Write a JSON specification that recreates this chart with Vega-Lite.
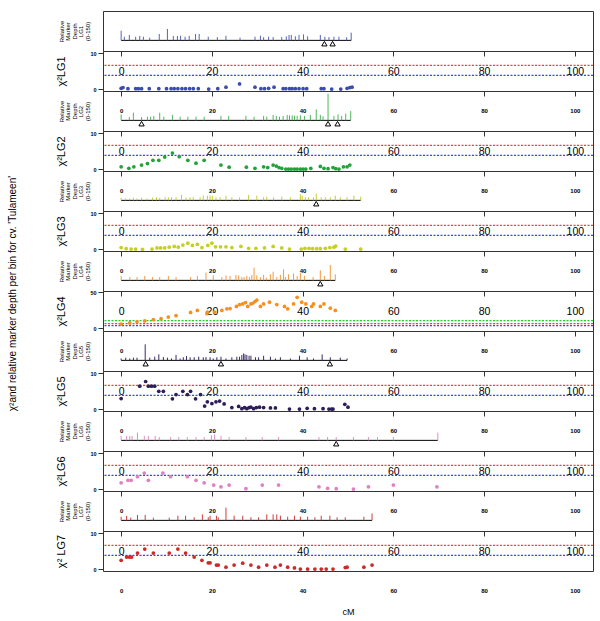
{
"$schema":"https://vega.github.io/schema/vega-lite/v6.json",
"padding":{"left":7,"top":10,"right":6,"bottom":2},
"background":"#ffffff",
"title":{"text":"χ²and relative marker depth per bin for cv. 'Tulameen'","orient":"left","anchor":"middle","fontSize":10,"fontWeight":"normal","font":"Liberation Sans","color":"#000","offset":37,"dx":20},
"spacing":0,
"bounds":"flush",
"config":{"view":{"stroke":"#333","strokeWidth":1},"font":"Liberation Sans","axis":{"grid":false,"labelColor":"#000","tickColor":"#333","titleColor":"#000","labelFont":"Liberation Sans","titleFont":"Liberation Sans","labelOverlap":false}},
"datasets":{
"thr":[{"level":"p05","value":3.84},{"level":"p01","value":6.63},{"level":"p001","value":10.83}],
"base":[{"lg":"LG1","start":0,"end":50.7},{"lg":"LG2","start":0,"end":50.6},{"lg":"LG3","start":0,"end":52.8},{"lg":"LG4","start":0,"end":47.2},{"lg":"LG5","start":0,"end":49.8},{"lg":"LG6","start":0,"end":69.8},{"lg":"LG7","start":0,"end":55.3}],
"tri":[{"lg":"LG1","cM":44.8},{"lg":"LG1","cM":46.6},{"lg":"LG2","cM":4.5},{"lg":"LG2","cM":45.6},{"lg":"LG2","cM":47.7},{"lg":"LG3","cM":43.0},{"lg":"LG4","cM":43.9},{"lg":"LG5","cM":5.4},{"lg":"LG5","cM":22.0},{"lg":"LG5","cM":46.0},{"lg":"LG6","cM":47.4}],
"bars":[
{"lg":"LG1","cM":0,"depth":50},{"lg":"LG1","cM":0.7,"depth":19},{"lg":"LG1","cM":1.8,"depth":28},{"lg":"LG1","cM":3.2,"depth":19},{"lg":"LG1","cM":4.1,"depth":23},{"lg":"LG1","cM":4.9,"depth":19},{"lg":"LG1","cM":6.3,"depth":14},{"lg":"LG1","cM":8.4,"depth":33},{"lg":"LG1","cM":10.2,"depth":59},{"lg":"LG1","cM":11.5,"depth":23},{"lg":"LG1","cM":12.4,"depth":23},{"lg":"LG1","cM":13.1,"depth":24},{"lg":"LG1","cM":14.1,"depth":19},{"lg":"LG1","cM":15.0,"depth":23},{"lg":"LG1","cM":16.4,"depth":33},{"lg":"LG1","cM":17.2,"depth":33},{"lg":"LG1","cM":19.2,"depth":19},{"lg":"LG1","cM":21.2,"depth":17},{"lg":"LG1","cM":23.1,"depth":24},{"lg":"LG1","cM":26.2,"depth":14},{"lg":"LG1","cM":29.5,"depth":19},{"lg":"LG1","cM":30.7,"depth":24},{"lg":"LG1","cM":31.4,"depth":16},{"lg":"LG1","cM":32.5,"depth":19},{"lg":"LG1","cM":33.5,"depth":17},{"lg":"LG1","cM":35.4,"depth":17},{"lg":"LG1","cM":36.4,"depth":21},{"lg":"LG1","cM":37.0,"depth":28},{"lg":"LG1","cM":37.5,"depth":28},{"lg":"LG1","cM":38.4,"depth":21},{"lg":"LG1","cM":39.2,"depth":28},{"lg":"LG1","cM":40.2,"depth":31},{"lg":"LG1","cM":41.1,"depth":21},{"lg":"LG1","cM":43.9,"depth":28},{"lg":"LG1","cM":44.9,"depth":19},{"lg":"LG1","cM":45.8,"depth":17},{"lg":"LG1","cM":46.9,"depth":19},{"lg":"LG1","cM":48.0,"depth":19},{"lg":"LG1","cM":49.7,"depth":16},{"lg":"LG1","cM":50.7,"depth":40},
{"lg":"LG2","cM":0,"depth":31},{"lg":"LG2","cM":1.8,"depth":17},{"lg":"LG2","cM":2.7,"depth":40},{"lg":"LG2","cM":4.5,"depth":17},{"lg":"LG2","cM":5.8,"depth":19},{"lg":"LG2","cM":6.5,"depth":19},{"lg":"LG2","cM":7.2,"depth":23},{"lg":"LG2","cM":8.5,"depth":40},{"lg":"LG2","cM":9.4,"depth":19},{"lg":"LG2","cM":11.3,"depth":28},{"lg":"LG2","cM":13.0,"depth":19},{"lg":"LG2","cM":14.7,"depth":19},{"lg":"LG2","cM":16.5,"depth":19},{"lg":"LG2","cM":18.3,"depth":19},{"lg":"LG2","cM":22.0,"depth":23},{"lg":"LG2","cM":23.7,"depth":23},{"lg":"LG2","cM":27.5,"depth":23},{"lg":"LG2","cM":29.3,"depth":19},{"lg":"LG2","cM":31.4,"depth":23},{"lg":"LG2","cM":32.1,"depth":19},{"lg":"LG2","cM":33.5,"depth":28},{"lg":"LG2","cM":34.2,"depth":23},{"lg":"LG2","cM":34.9,"depth":19},{"lg":"LG2","cM":35.7,"depth":23},{"lg":"LG2","cM":36.6,"depth":28},{"lg":"LG2","cM":37.1,"depth":26},{"lg":"LG2","cM":37.7,"depth":26},{"lg":"LG2","cM":38.2,"depth":24},{"lg":"LG2","cM":38.8,"depth":24},{"lg":"LG2","cM":39.5,"depth":26},{"lg":"LG2","cM":40.4,"depth":23},{"lg":"LG2","cM":41.7,"depth":28},{"lg":"LG2","cM":43.0,"depth":57},{"lg":"LG2","cM":43.9,"depth":28},{"lg":"LG2","cM":44.5,"depth":21},{"lg":"LG2","cM":45.6,"depth":138},{"lg":"LG2","cM":46.9,"depth":23},{"lg":"LG2","cM":47.8,"depth":31},{"lg":"LG2","cM":48.6,"depth":23},{"lg":"LG2","cM":49.5,"depth":35},{"lg":"LG2","cM":50.6,"depth":48},
{"lg":"LG3","cM":0,"depth":14},{"lg":"LG3","cM":1.0,"depth":10},{"lg":"LG3","cM":1.9,"depth":10},{"lg":"LG3","cM":2.7,"depth":14},{"lg":"LG3","cM":3.5,"depth":10},{"lg":"LG3","cM":4.5,"depth":14},{"lg":"LG3","cM":5.7,"depth":10},{"lg":"LG3","cM":6.9,"depth":14},{"lg":"LG3","cM":7.8,"depth":16},{"lg":"LG3","cM":8.5,"depth":14},{"lg":"LG3","cM":9.7,"depth":16},{"lg":"LG3","cM":10.4,"depth":16},{"lg":"LG3","cM":11.1,"depth":16},{"lg":"LG3","cM":12.1,"depth":16},{"lg":"LG3","cM":13.3,"depth":28},{"lg":"LG3","cM":14.3,"depth":14},{"lg":"LG3","cM":15.2,"depth":16},{"lg":"LG3","cM":15.9,"depth":16},{"lg":"LG3","cM":17.4,"depth":16},{"lg":"LG3","cM":18.1,"depth":24},{"lg":"LG3","cM":19.0,"depth":24},{"lg":"LG3","cM":19.6,"depth":24},{"lg":"LG3","cM":20.1,"depth":24},{"lg":"LG3","cM":20.9,"depth":16},{"lg":"LG3","cM":21.8,"depth":16},{"lg":"LG3","cM":23.1,"depth":24},{"lg":"LG3","cM":24.4,"depth":16},{"lg":"LG3","cM":26.1,"depth":16},{"lg":"LG3","cM":28.1,"depth":28},{"lg":"LG3","cM":29.9,"depth":24},{"lg":"LG3","cM":31.4,"depth":16},{"lg":"LG3","cM":32.1,"depth":19},{"lg":"LG3","cM":33.6,"depth":16},{"lg":"LG3","cM":35.4,"depth":19},{"lg":"LG3","cM":37.3,"depth":16},{"lg":"LG3","cM":39.5,"depth":31},{"lg":"LG3","cM":39.9,"depth":24},{"lg":"LG3","cM":40.6,"depth":16},{"lg":"LG3","cM":41.3,"depth":16},{"lg":"LG3","cM":42.4,"depth":16},{"lg":"LG3","cM":43.0,"depth":35},{"lg":"LG3","cM":44.1,"depth":16},{"lg":"LG3","cM":45.0,"depth":16},{"lg":"LG3","cM":46.1,"depth":16},{"lg":"LG3","cM":47.2,"depth":24},{"lg":"LG3","cM":48.3,"depth":16},{"lg":"LG3","cM":49.8,"depth":16},{"lg":"LG3","cM":51.3,"depth":24},{"lg":"LG3","cM":52.8,"depth":19},
{"lg":"LG4","cM":0,"depth":23},{"lg":"LG4","cM":1.9,"depth":17},{"lg":"LG4","cM":3.5,"depth":17},{"lg":"LG4","cM":5.2,"depth":23},{"lg":"LG4","cM":6.9,"depth":17},{"lg":"LG4","cM":8.5,"depth":17},{"lg":"LG4","cM":10.4,"depth":23},{"lg":"LG4","cM":12.1,"depth":17},{"lg":"LG4","cM":15.3,"depth":17},{"lg":"LG4","cM":16.8,"depth":23},{"lg":"LG4","cM":18.7,"depth":40},{"lg":"LG4","cM":20.3,"depth":26},{"lg":"LG4","cM":22.2,"depth":17},{"lg":"LG4","cM":23.1,"depth":26},{"lg":"LG4","cM":24.0,"depth":23},{"lg":"LG4","cM":25.3,"depth":28},{"lg":"LG4","cM":25.9,"depth":26},{"lg":"LG4","cM":26.6,"depth":17},{"lg":"LG4","cM":27.1,"depth":17},{"lg":"LG4","cM":27.7,"depth":23},{"lg":"LG4","cM":28.3,"depth":17},{"lg":"LG4","cM":28.8,"depth":28},{"lg":"LG4","cM":29.3,"depth":66},{"lg":"LG4","cM":29.9,"depth":26},{"lg":"LG4","cM":30.7,"depth":17},{"lg":"LG4","cM":31.4,"depth":28},{"lg":"LG4","cM":32.0,"depth":14},{"lg":"LG4","cM":32.9,"depth":31},{"lg":"LG4","cM":33.5,"depth":45},{"lg":"LG4","cM":34.3,"depth":17},{"lg":"LG4","cM":35.1,"depth":28},{"lg":"LG4","cM":35.8,"depth":57},{"lg":"LG4","cM":36.2,"depth":17},{"lg":"LG4","cM":36.9,"depth":31},{"lg":"LG4","cM":38.0,"depth":36},{"lg":"LG4","cM":38.8,"depth":23},{"lg":"LG4","cM":39.5,"depth":40},{"lg":"LG4","cM":40.4,"depth":23},{"lg":"LG4","cM":42.3,"depth":17},{"lg":"LG4","cM":43.9,"depth":52},{"lg":"LG4","cM":44.8,"depth":23},{"lg":"LG4","cM":46.1,"depth":80},{"lg":"LG4","cM":47.2,"depth":31},
{"lg":"LG5","cM":0,"depth":10},{"lg":"LG5","cM":1.0,"depth":14},{"lg":"LG5","cM":1.9,"depth":10},{"lg":"LG5","cM":2.7,"depth":14},{"lg":"LG5","cM":3.5,"depth":14},{"lg":"LG5","cM":5.3,"depth":83},{"lg":"LG5","cM":6.3,"depth":14},{"lg":"LG5","cM":7.4,"depth":19},{"lg":"LG5","cM":8.3,"depth":31},{"lg":"LG5","cM":9.3,"depth":17},{"lg":"LG5","cM":10.2,"depth":14},{"lg":"LG5","cM":11.1,"depth":10},{"lg":"LG5","cM":12.1,"depth":28},{"lg":"LG5","cM":13.0,"depth":10},{"lg":"LG5","cM":13.7,"depth":16},{"lg":"LG5","cM":14.4,"depth":22},{"lg":"LG5","cM":15.2,"depth":16},{"lg":"LG5","cM":16.1,"depth":16},{"lg":"LG5","cM":17.1,"depth":19},{"lg":"LG5","cM":18.1,"depth":16},{"lg":"LG5","cM":18.7,"depth":17},{"lg":"LG5","cM":19.6,"depth":16},{"lg":"LG5","cM":20.3,"depth":10},{"lg":"LG5","cM":21.1,"depth":16},{"lg":"LG5","cM":22.0,"depth":19},{"lg":"LG5","cM":23.1,"depth":10},{"lg":"LG5","cM":24.4,"depth":16},{"lg":"LG5","cM":25.5,"depth":19},{"lg":"LG5","cM":26.1,"depth":19},{"lg":"LG5","cM":26.6,"depth":28},{"lg":"LG5","cM":27.0,"depth":36},{"lg":"LG5","cM":27.3,"depth":31},{"lg":"LG5","cM":27.7,"depth":28},{"lg":"LG5","cM":28.2,"depth":24},{"lg":"LG5","cM":28.6,"depth":24},{"lg":"LG5","cM":29.6,"depth":16},{"lg":"LG5","cM":30.3,"depth":16},{"lg":"LG5","cM":31.4,"depth":24},{"lg":"LG5","cM":32.9,"depth":19},{"lg":"LG5","cM":34.0,"depth":10},{"lg":"LG5","cM":35.1,"depth":16},{"lg":"LG5","cM":37.3,"depth":10},{"lg":"LG5","cM":39.3,"depth":24},{"lg":"LG5","cM":41.0,"depth":16},{"lg":"LG5","cM":42.4,"depth":10},{"lg":"LG5","cM":44.3,"depth":31},{"lg":"LG5","cM":46.1,"depth":16},{"lg":"LG5","cM":48.3,"depth":14},{"lg":"LG5","cM":49.8,"depth":10},
{"lg":"LG6","cM":0,"depth":23},{"lg":"LG6","cM":1.2,"depth":23},{"lg":"LG6","cM":1.9,"depth":23},{"lg":"LG6","cM":2.4,"depth":23},{"lg":"LG6","cM":3.6,"depth":40},{"lg":"LG6","cM":5.1,"depth":23},{"lg":"LG6","cM":6.0,"depth":23},{"lg":"LG6","cM":7.5,"depth":23},{"lg":"LG6","cM":8.4,"depth":17},{"lg":"LG6","cM":10.9,"depth":17},{"lg":"LG6","cM":12.7,"depth":17},{"lg":"LG6","cM":14.6,"depth":17},{"lg":"LG6","cM":16.5,"depth":17},{"lg":"LG6","cM":18.3,"depth":17},{"lg":"LG6","cM":19.9,"depth":26},{"lg":"LG6","cM":20.6,"depth":31},{"lg":"LG6","cM":22.0,"depth":23},{"lg":"LG6","cM":23.8,"depth":17},{"lg":"LG6","cM":27.5,"depth":17},{"lg":"LG6","cM":31.1,"depth":17},{"lg":"LG6","cM":34.7,"depth":17},{"lg":"LG6","cM":43.6,"depth":17},{"lg":"LG6","cM":45.5,"depth":17},{"lg":"LG6","cM":47.4,"depth":17},{"lg":"LG6","cM":51.2,"depth":17},{"lg":"LG6","cM":54.5,"depth":17},{"lg":"LG6","cM":56.5,"depth":17},{"lg":"LG6","cM":60.0,"depth":17},{"lg":"LG6","cM":69.8,"depth":40},
{"lg":"LG7","cM":0,"depth":19},{"lg":"LG7","cM":1.2,"depth":23},{"lg":"LG7","cM":2.1,"depth":14},{"lg":"LG7","cM":3.6,"depth":28},{"lg":"LG7","cM":5.3,"depth":28},{"lg":"LG7","cM":7.1,"depth":14},{"lg":"LG7","cM":10.6,"depth":14},{"lg":"LG7","cM":12.5,"depth":24},{"lg":"LG7","cM":14.2,"depth":24},{"lg":"LG7","cM":16.1,"depth":16},{"lg":"LG7","cM":17.9,"depth":31},{"lg":"LG7","cM":19.2,"depth":16},{"lg":"LG7","cM":19.6,"depth":24},{"lg":"LG7","cM":21.0,"depth":24},{"lg":"LG7","cM":21.4,"depth":16},{"lg":"LG7","cM":23.1,"depth":66},{"lg":"LG7","cM":24.9,"depth":24},{"lg":"LG7","cM":26.8,"depth":24},{"lg":"LG7","cM":28.6,"depth":16},{"lg":"LG7","cM":30.3,"depth":16},{"lg":"LG7","cM":32.1,"depth":31},{"lg":"LG7","cM":33.5,"depth":31},{"lg":"LG7","cM":34.3,"depth":31},{"lg":"LG7","cM":35.1,"depth":24},{"lg":"LG7","cM":36.7,"depth":19},{"lg":"LG7","cM":38.2,"depth":24},{"lg":"LG7","cM":39.5,"depth":19},{"lg":"LG7","cM":41.1,"depth":19},{"lg":"LG7","cM":42.7,"depth":16},{"lg":"LG7","cM":44.1,"depth":24},{"lg":"LG7","cM":46.0,"depth":24},{"lg":"LG7","cM":47.6,"depth":16},{"lg":"LG7","cM":49.4,"depth":16},{"lg":"LG7","cM":53.5,"depth":19},{"lg":"LG7","cM":55.3,"depth":36}
],
"chi":[
{"lg":"LG1","cM":0,"chi2":0.3},{"lg":"LG1","cM":0.4,"chi2":0.5},{"lg":"LG1","cM":1.5,"chi2":0.2},{"lg":"LG1","cM":3.2,"chi2":0.2},{"lg":"LG1","cM":3.8,"chi2":0.2},{"lg":"LG1","cM":4.5,"chi2":0.2},{"lg":"LG1","cM":6.2,"chi2":0.2},{"lg":"LG1","cM":8.3,"chi2":0.2},{"lg":"LG1","cM":10.0,"chi2":0.2},{"lg":"LG1","cM":11.0,"chi2":0.2},{"lg":"LG1","cM":11.7,"chi2":0.2},{"lg":"LG1","cM":12.5,"chi2":0.2},{"lg":"LG1","cM":13.4,"chi2":0.2},{"lg":"LG1","cM":14.2,"chi2":0.2},{"lg":"LG1","cM":15.1,"chi2":0.2},{"lg":"LG1","cM":15.9,"chi2":0.2},{"lg":"LG1","cM":17.0,"chi2":0.2},{"lg":"LG1","cM":19.3,"chi2":0.1},{"lg":"LG1","cM":21.3,"chi2":0.2},{"lg":"LG1","cM":23.1,"chi2":0.6},{"lg":"LG1","cM":26.1,"chi2":1.5},{"lg":"LG1","cM":29.5,"chi2":0.6},{"lg":"LG1","cM":30.8,"chi2":0.2},{"lg":"LG1","cM":31.6,"chi2":0.2},{"lg":"LG1","cM":32.5,"chi2":0.3},{"lg":"LG1","cM":33.7,"chi2":0.6},{"lg":"LG1","cM":35.7,"chi2":0.2},{"lg":"LG1","cM":36.3,"chi2":0.2},{"lg":"LG1","cM":37.1,"chi2":0.2},{"lg":"LG1","cM":37.7,"chi2":0.2},{"lg":"LG1","cM":38.4,"chi2":0.2},{"lg":"LG1","cM":39.2,"chi2":0.2},{"lg":"LG1","cM":40.1,"chi2":0.2},{"lg":"LG1","cM":40.9,"chi2":0.2},{"lg":"LG1","cM":44.1,"chi2":0.2},{"lg":"LG1","cM":44.7,"chi2":0.2},{"lg":"LG1","cM":46.4,"chi2":0.1},{"lg":"LG1","cM":48.4,"chi2":0.1},{"lg":"LG1","cM":49.8,"chi2":0.3},{"lg":"LG1","cM":50.4,"chi2":0.5},{"lg":"LG1","cM":50.9,"chi2":0.6},
{"lg":"LG2","cM":0,"chi2":0.7},{"lg":"LG2","cM":1.7,"chi2":0.3},{"lg":"LG2","cM":2.8,"chi2":0.7},{"lg":"LG2","cM":4.5,"chi2":1.2},{"lg":"LG2","cM":5.8,"chi2":1.6},{"lg":"LG2","cM":7.0,"chi2":2.5},{"lg":"LG2","cM":8.3,"chi2":2.5},{"lg":"LG2","cM":9.6,"chi2":3.4},{"lg":"LG2","cM":11.3,"chi2":4.5},{"lg":"LG2","cM":12.8,"chi2":3.5},{"lg":"LG2","cM":14.7,"chi2":2.5},{"lg":"LG2","cM":16.5,"chi2":1.7},{"lg":"LG2","cM":18.3,"chi2":2.5},{"lg":"LG2","cM":22.0,"chi2":1.2},{"lg":"LG2","cM":23.8,"chi2":0.6},{"lg":"LG2","cM":27.6,"chi2":0.6},{"lg":"LG2","cM":29.5,"chi2":0.3},{"lg":"LG2","cM":31.4,"chi2":0.7},{"lg":"LG2","cM":32.3,"chi2":0.5},{"lg":"LG2","cM":33.5,"chi2":1.2},{"lg":"LG2","cM":34.2,"chi2":0.9},{"lg":"LG2","cM":34.8,"chi2":0.5},{"lg":"LG2","cM":35.4,"chi2":0.3},{"lg":"LG2","cM":36.3,"chi2":0.1},{"lg":"LG2","cM":36.9,"chi2":0.1},{"lg":"LG2","cM":37.5,"chi2":0.1},{"lg":"LG2","cM":38.2,"chi2":0.1},{"lg":"LG2","cM":38.8,"chi2":0.1},{"lg":"LG2","cM":39.5,"chi2":0.1},{"lg":"LG2","cM":40.1,"chi2":0.1},{"lg":"LG2","cM":40.7,"chi2":0.1},{"lg":"LG2","cM":41.8,"chi2":0.3},{"lg":"LG2","cM":43.9,"chi2":0.8},{"lg":"LG2","cM":44.7,"chi2":0.3},{"lg":"LG2","cM":45.6,"chi2":0.2},{"lg":"LG2","cM":46.7,"chi2":0.5},{"lg":"LG2","cM":47.3,"chi2":0.2},{"lg":"LG2","cM":48.0,"chi2":0.1},{"lg":"LG2","cM":49.0,"chi2":0.7},{"lg":"LG2","cM":49.8,"chi2":0.7},{"lg":"LG2","cM":50.4,"chi2":1.2},
{"lg":"LG3","cM":0,"chi2":0.5},{"lg":"LG3","cM":1.1,"chi2":0.2},{"lg":"LG3","cM":2.2,"chi2":0.1},{"lg":"LG3","cM":3.2,"chi2":0.1},{"lg":"LG3","cM":4.7,"chi2":0.0},{"lg":"LG3","cM":6.8,"chi2":0.1},{"lg":"LG3","cM":7.9,"chi2":0.4},{"lg":"LG3","cM":8.7,"chi2":0.4},{"lg":"LG3","cM":9.6,"chi2":0.4},{"lg":"LG3","cM":10.6,"chi2":0.6},{"lg":"LG3","cM":11.7,"chi2":0.8},{"lg":"LG3","cM":12.6,"chi2":0.6},{"lg":"LG3","cM":13.6,"chi2":1.2},{"lg":"LG3","cM":14.7,"chi2":1.7},{"lg":"LG3","cM":15.7,"chi2":1.1},{"lg":"LG3","cM":16.8,"chi2":1.4},{"lg":"LG3","cM":17.8,"chi2":0.5},{"lg":"LG3","cM":19.1,"chi2":1.1},{"lg":"LG3","cM":20.0,"chi2":1.7},{"lg":"LG3","cM":20.8,"chi2":0.7},{"lg":"LG3","cM":21.9,"chi2":0.7},{"lg":"LG3","cM":23.1,"chi2":0.7},{"lg":"LG3","cM":24.4,"chi2":0.5},{"lg":"LG3","cM":26.4,"chi2":0.8},{"lg":"LG3","cM":28.1,"chi2":0.3},{"lg":"LG3","cM":29.7,"chi2":0.3},{"lg":"LG3","cM":31.6,"chi2":0.4},{"lg":"LG3","cM":33.5,"chi2":0.8},{"lg":"LG3","cM":35.4,"chi2":0.4},{"lg":"LG3","cM":37.1,"chi2":0.1},{"lg":"LG3","cM":39.7,"chi2":0.1},{"lg":"LG3","cM":40.5,"chi2":0.3},{"lg":"LG3","cM":41.4,"chi2":0.3},{"lg":"LG3","cM":42.2,"chi2":0.2},{"lg":"LG3","cM":43.1,"chi2":0.2},{"lg":"LG3","cM":43.9,"chi2":0.2},{"lg":"LG3","cM":45.0,"chi2":0.3},{"lg":"LG3","cM":46.0,"chi2":0.5},{"lg":"LG3","cM":46.9,"chi2":0.6},{"lg":"LG3","cM":47.3,"chi2":0.9},{"lg":"LG3","cM":49.4,"chi2":0.1},{"lg":"LG3","cM":52.8,"chi2":0.1},
{"lg":"LG4","cM":0,"chi2":5.9},{"lg":"LG4","cM":1.9,"chi2":7.7},{"lg":"LG4","cM":3.5,"chi2":9.5},{"lg":"LG4","cM":5.2,"chi2":10.5},{"lg":"LG4","cM":7.1,"chi2":12.3},{"lg":"LG4","cM":8.8,"chi2":13.6},{"lg":"LG4","cM":10.4,"chi2":15.9},{"lg":"LG4","cM":12.1,"chi2":17.7},{"lg":"LG4","cM":15.3,"chi2":22.3},{"lg":"LG4","cM":16.8,"chi2":25},{"lg":"LG4","cM":18.9,"chi2":20.5},{"lg":"LG4","cM":19.0,"chi2":22.7},{"lg":"LG4","cM":20.6,"chi2":22.7},{"lg":"LG4","cM":22.2,"chi2":25},{"lg":"LG4","cM":23.3,"chi2":27.3},{"lg":"LG4","cM":24.0,"chi2":27.7},{"lg":"LG4","cM":25.4,"chi2":30.5},{"lg":"LG4","cM":26.1,"chi2":33.2},{"lg":"LG4","cM":26.8,"chi2":34},{"lg":"LG4","cM":27.4,"chi2":36},{"lg":"LG4","cM":27.9,"chi2":30.5},{"lg":"LG4","cM":28.6,"chi2":34},{"lg":"LG4","cM":29.0,"chi2":35},{"lg":"LG4","cM":29.5,"chi2":37.3},{"lg":"LG4","cM":29.9,"chi2":39.5},{"lg":"LG4","cM":30.7,"chi2":30.5},{"lg":"LG4","cM":31.4,"chi2":34},{"lg":"LG4","cM":32.7,"chi2":36.4},{"lg":"LG4","cM":34.3,"chi2":33.2},{"lg":"LG4","cM":36.0,"chi2":30.5},{"lg":"LG4","cM":36.7,"chi2":27.3},{"lg":"LG4","cM":38.0,"chi2":34},{"lg":"LG4","cM":38.8,"chi2":43.2},{"lg":"LG4","cM":39.8,"chi2":36.4},{"lg":"LG4","cM":40.7,"chi2":34},{"lg":"LG4","cM":42.0,"chi2":30.5},{"lg":"LG4","cM":42.4,"chi2":34},{"lg":"LG4","cM":43.9,"chi2":30.5},{"lg":"LG4","cM":44.7,"chi2":34},{"lg":"LG4","cM":46.1,"chi2":28.2},{"lg":"LG4","cM":47.2,"chi2":25},
{"lg":"LG5","cM":0,"chi2":3.0},{"lg":"LG5","cM":4.1,"chi2":6.4},{"lg":"LG5","cM":5.4,"chi2":7.7},{"lg":"LG5","cM":6.0,"chi2":6.4},{"lg":"LG5","cM":6.7,"chi2":6.4},{"lg":"LG5","cM":7.4,"chi2":6.4},{"lg":"LG5","cM":8.3,"chi2":5.0},{"lg":"LG5","cM":9.3,"chi2":5.0},{"lg":"LG5","cM":11.3,"chi2":2.9},{"lg":"LG5","cM":12.1,"chi2":4.1},{"lg":"LG5","cM":13.6,"chi2":5.0},{"lg":"LG5","cM":14.6,"chi2":4.1},{"lg":"LG5","cM":15.3,"chi2":5.0},{"lg":"LG5","cM":16.4,"chi2":2.9},{"lg":"LG5","cM":17.5,"chi2":4.1},{"lg":"LG5","cM":18.4,"chi2":0.9},{"lg":"LG5","cM":19.0,"chi2":2.1},{"lg":"LG5","cM":20.0,"chi2":1.6},{"lg":"LG5","cM":20.9,"chi2":2.1},{"lg":"LG5","cM":21.7,"chi2":2.3},{"lg":"LG5","cM":22.7,"chi2":1.5},{"lg":"LG5","cM":24.4,"chi2":0.5},{"lg":"LG5","cM":25.9,"chi2":0.8},{"lg":"LG5","cM":26.6,"chi2":0.2},{"lg":"LG5","cM":27.2,"chi2":0.5},{"lg":"LG5","cM":27.7,"chi2":0.2},{"lg":"LG5","cM":28.2,"chi2":0.5},{"lg":"LG5","cM":28.6,"chi2":0.6},{"lg":"LG5","cM":29.2,"chi2":0.2},{"lg":"LG5","cM":29.8,"chi2":0.5},{"lg":"LG5","cM":30.5,"chi2":0.6},{"lg":"LG5","cM":31.4,"chi2":0.5},{"lg":"LG5","cM":32.9,"chi2":0.4},{"lg":"LG5","cM":34.0,"chi2":0.4},{"lg":"LG5","cM":37.1,"chi2":0.1},{"lg":"LG5","cM":39.3,"chi2":0.1},{"lg":"LG5","cM":41.0,"chi2":0.3},{"lg":"LG5","cM":42.6,"chi2":0.2},{"lg":"LG5","cM":44.5,"chi2":0.2},{"lg":"LG5","cM":45.8,"chi2":0.1},{"lg":"LG5","cM":46.4,"chi2":0.1},{"lg":"LG5","cM":46.7,"chi2":0.1},{"lg":"LG5","cM":49.3,"chi2":1.4},{"lg":"LG5","cM":50.0,"chi2":0.6},
{"lg":"LG6","cM":0,"chi2":1.8},{"lg":"LG6","cM":1.5,"chi2":2.5},{"lg":"LG6","cM":2.2,"chi2":2.5},{"lg":"LG6","cM":3.6,"chi2":3.5},{"lg":"LG6","cM":5.1,"chi2":4.5},{"lg":"LG6","cM":6.0,"chi2":2.5},{"lg":"LG6","cM":9.2,"chi2":4.5},{"lg":"LG6","cM":10.9,"chi2":3.5},{"lg":"LG6","cM":14.6,"chi2":3.5},{"lg":"LG6","cM":16.5,"chi2":2.5},{"lg":"LG6","cM":18.3,"chi2":1.8},{"lg":"LG6","cM":20.4,"chi2":1.2},{"lg":"LG6","cM":22.0,"chi2":0.7},{"lg":"LG6","cM":23.8,"chi2":1.2},{"lg":"LG6","cM":27.5,"chi2":0.2},{"lg":"LG6","cM":31.1,"chi2":1.2},{"lg":"LG6","cM":34.7,"chi2":1.2},{"lg":"LG6","cM":43.6,"chi2":0.7},{"lg":"LG6","cM":45.5,"chi2":0.3},{"lg":"LG6","cM":47.4,"chi2":0.2},{"lg":"LG6","cM":51.2,"chi2":0.1},{"lg":"LG6","cM":54.5,"chi2":0.7},{"lg":"LG6","cM":60.0,"chi2":1.2},{"lg":"LG6","cM":69.6,"chi2":0.7},
{"lg":"LG7","cM":0,"chi2":2.5},{"lg":"LG7","cM":1.2,"chi2":3.4},{"lg":"LG7","cM":1.8,"chi2":3.4},{"lg":"LG7","cM":2.3,"chi2":3.4},{"lg":"LG7","cM":3.6,"chi2":4.5},{"lg":"LG7","cM":5.2,"chi2":5.6},{"lg":"LG7","cM":7.1,"chi2":4.5},{"lg":"LG7","cM":10.6,"chi2":4.5},{"lg":"LG7","cM":12.5,"chi2":5.6},{"lg":"LG7","cM":14.2,"chi2":4.5},{"lg":"LG7","cM":16.1,"chi2":3.4},{"lg":"LG7","cM":17.8,"chi2":2.5},{"lg":"LG7","cM":19.2,"chi2":1.8},{"lg":"LG7","cM":19.6,"chi2":1.8},{"lg":"LG7","cM":21.0,"chi2":1.2},{"lg":"LG7","cM":21.4,"chi2":1.2},{"lg":"LG7","cM":23.1,"chi2":0.6},{"lg":"LG7","cM":24.9,"chi2":1.2},{"lg":"LG7","cM":26.8,"chi2":1.7},{"lg":"LG7","cM":28.6,"chi2":1.2},{"lg":"LG7","cM":30.3,"chi2":0.6},{"lg":"LG7","cM":32.1,"chi2":1.2},{"lg":"LG7","cM":33.9,"chi2":0.6},{"lg":"LG7","cM":35.1,"chi2":1.2},{"lg":"LG7","cM":36.7,"chi2":0.6},{"lg":"LG7","cM":38.2,"chi2":0.4},{"lg":"LG7","cM":39.5,"chi2":0.1},{"lg":"LG7","cM":41.1,"chi2":0.1},{"lg":"LG7","cM":42.7,"chi2":0.1},{"lg":"LG7","cM":44.1,"chi2":0.1},{"lg":"LG7","cM":45.2,"chi2":0.1},{"lg":"LG7","cM":46.7,"chi2":0.1},{"lg":"LG7","cM":49.4,"chi2":0.5},{"lg":"LG7","cM":49.8,"chi2":0.6},{"lg":"LG7","cM":53.5,"chi2":0.6},{"lg":"LG7","cM":55.3,"chi2":1.2}
]},
"vconcat":[
{"width":490,"height":40,"layer":[
 {"data":{"name":"base"},"transform":[{"filter":"datum.lg==='LG1'"}],"mark":{"type":"rule","color":"#000","strokeWidth":1},"encoding":{"x":{"field":"start","type":"quantitative","scale":{"domain":[-4,104],"nice":false,"zero":false},"axis":null},"x2":{"field":"end"},"y":{"datum":0,"type":"quantitative","scale":{"domain":[-55,152],"nice":false,"zero":false},"axis":{"title":["Relative","Marker","Depth","LG1","(0-150)"],"labels":false,"ticks":false,"domain":false,"grid":false,"titleFontSize":6,"titleLineHeight":6.6,"titleX":-42,"titleY":20,"titleAngle":-90,"titleAlign":"center","titleBaseline":"middle","titleFontWeight":"normal"}}}},
 {"data":{"name":"bars"},"transform":[{"filter":"datum.lg==='LG1'"}],"mark":{"type":"rule","color":"#5566bb","strokeWidth":1},"encoding":{"x":{"field":"cM","type":"quantitative","scale":{"domain":[-4,104],"nice":false,"zero":false},"axis":null},"y":{"field":"depth","type":"quantitative","scale":{"domain":[-55,152],"nice":false,"zero":false}},"y2":{"datum":0}}},
 {"data":{"name":"tri"},"transform":[{"filter":"datum.lg==='LG1'"}],"mark":{"type":"point","shape":"triangle-up","filled":false,"color":"#000","strokeWidth":1,"size":28,"opacity":1},"encoding":{"x":{"field":"cM","type":"quantitative","scale":{"domain":[-4,104],"nice":false,"zero":false},"axis":null},"y":{"datum":-17,"type":"quantitative","scale":{"domain":[-55,152],"nice":false,"zero":false}}}}
]},
{"width":490,"height":40,"layer":[
 {"data":{"name":"thr"},"transform":[{"filter":"datum.value < 10"}],"mark":{"type":"rule","strokeDash":[2,1.5],"strokeWidth":1.2},"encoding":{"y":{"field":"value","type":"quantitative","scale":{"domain":[-0.45,10.6],"nice":false,"zero":false},"axis":{"orient":"left","values":[0,2,4,6,8,10],"tickSize":5,"labelPadding":2,"labelFontSize":5.5,"labelFontWeight":"bold","domain":false,"grid":false,"title":"χ²LG1","titleFontSize":11,"titleFontWeight":"normal","titleX":-42,"titleY":20,"titleAngle":-90,"titleAlign":"center","titleBaseline":"middle"}},"color":{"field":"level","type":"nominal","scale":{"domain":["p05","p01","p001"],"range":["#3344ff","#ff3b3b","#22cc22"]},"legend":null}}},
 {"data":{"name":"chi"},"transform":[{"filter":"datum.lg==='LG1'"}],"mark":{"type":"circle","size":14,"opacity":1,"color":"#3b4cb0"},"encoding":{"x":{"field":"cM","type":"quantitative","scale":{"domain":[-4,104],"nice":false,"zero":false},"axis":{"orient":"top","values":[0,20,40,60,80,100],"tickSize":-5,"labelPadding":-20,"labelFontSize":10.5,"domain":false,"grid":false,"title":null,"labelFlush":false}},"y":{"field":"chi2","type":"quantitative","scale":{"domain":[-0.45,10.6],"nice":false,"zero":false}}}}
]},
{"width":490,"height":40,"layer":[
 {"data":{"name":"base"},"transform":[{"filter":"datum.lg==='LG2'"}],"mark":{"type":"rule","color":"#000","strokeWidth":1},"encoding":{"x":{"field":"start","type":"quantitative","scale":{"domain":[-4,104],"nice":false,"zero":false},"axis":{"orient":"top","values":[0,20,40,60,80,100],"tickSize":-5,"labelPadding":-17,"labelFontSize":6,"labelFontWeight":"bold","domain":false,"grid":false,"title":null,"labelFlush":false}},"x2":{"field":"end"},"y":{"datum":0,"type":"quantitative","scale":{"domain":[-55,152],"nice":false,"zero":false},"axis":{"title":["Relative","Marker","Depth","LG2","(0-150)"],"labels":false,"ticks":false,"domain":false,"grid":false,"titleFontSize":6,"titleLineHeight":6.6,"titleX":-42,"titleY":20,"titleAngle":-90,"titleAlign":"center","titleBaseline":"middle","titleFontWeight":"normal"}}}},
 {"data":{"name":"bars"},"transform":[{"filter":"datum.lg==='LG2'"}],"mark":{"type":"rule","color":"#4cb85c","strokeWidth":1},"encoding":{"x":{"field":"cM","type":"quantitative","scale":{"domain":[-4,104],"nice":false,"zero":false}},"y":{"field":"depth","type":"quantitative","scale":{"domain":[-55,152],"nice":false,"zero":false}},"y2":{"datum":0}}},
 {"data":{"name":"tri"},"transform":[{"filter":"datum.lg==='LG2'"}],"mark":{"type":"point","shape":"triangle-up","filled":false,"color":"#000","strokeWidth":1,"size":28,"opacity":1},"encoding":{"x":{"field":"cM","type":"quantitative","scale":{"domain":[-4,104],"nice":false,"zero":false}},"y":{"datum":-17,"type":"quantitative","scale":{"domain":[-55,152],"nice":false,"zero":false}}}}
]},
{"width":490,"height":40,"layer":[
 {"data":{"name":"thr"},"transform":[{"filter":"datum.value < 10"}],"mark":{"type":"rule","strokeDash":[2,1.5],"strokeWidth":1.2},"encoding":{"y":{"field":"value","type":"quantitative","scale":{"domain":[-0.45,10.6],"nice":false,"zero":false},"axis":{"orient":"left","values":[0,2,4,6,8,10],"tickSize":5,"labelPadding":2,"labelFontSize":5.5,"labelFontWeight":"bold","domain":false,"grid":false,"title":"χ²LG2","titleFontSize":11,"titleFontWeight":"normal","titleX":-42,"titleY":20,"titleAngle":-90,"titleAlign":"center","titleBaseline":"middle"}},"color":{"field":"level","type":"nominal","scale":{"domain":["p05","p01","p001"],"range":["#3344ff","#ff3b3b","#22cc22"]},"legend":null}}},
 {"data":{"name":"chi"},"transform":[{"filter":"datum.lg==='LG2'"}],"mark":{"type":"circle","size":14,"opacity":1,"color":"#22a33a"},"encoding":{"x":{"field":"cM","type":"quantitative","scale":{"domain":[-4,104],"nice":false,"zero":false},"axis":{"orient":"top","values":[0,20,40,60,80,100],"tickSize":-5,"labelPadding":-20,"labelFontSize":10.5,"domain":false,"grid":false,"title":null,"labelFlush":false}},"y":{"field":"chi2","type":"quantitative","scale":{"domain":[-0.45,10.6],"nice":false,"zero":false}}}}
]},
{"width":490,"height":40,"layer":[
 {"data":{"name":"base"},"transform":[{"filter":"datum.lg==='LG3'"}],"mark":{"type":"rule","color":"#000","strokeWidth":1},"encoding":{"x":{"field":"start","type":"quantitative","scale":{"domain":[-4,104],"nice":false,"zero":false},"axis":{"orient":"top","values":[0,20,40,60,80,100],"tickSize":-5,"labelPadding":-17,"labelFontSize":6,"labelFontWeight":"bold","domain":false,"grid":false,"title":null,"labelFlush":false}},"x2":{"field":"end"},"y":{"datum":0,"type":"quantitative","scale":{"domain":[-55,152],"nice":false,"zero":false},"axis":{"title":["Relative","Marker","Depth","LG3","(0-150)"],"labels":false,"ticks":false,"domain":false,"grid":false,"titleFontSize":6,"titleLineHeight":6.6,"titleX":-42,"titleY":20,"titleAngle":-90,"titleAlign":"center","titleBaseline":"middle","titleFontWeight":"normal"}}}},
 {"data":{"name":"bars"},"transform":[{"filter":"datum.lg==='LG3'"}],"mark":{"type":"rule","color":"#c8cc22","strokeWidth":1},"encoding":{"x":{"field":"cM","type":"quantitative","scale":{"domain":[-4,104],"nice":false,"zero":false}},"y":{"field":"depth","type":"quantitative","scale":{"domain":[-55,152],"nice":false,"zero":false}},"y2":{"datum":0}}},
 {"data":{"name":"tri"},"transform":[{"filter":"datum.lg==='LG3'"}],"mark":{"type":"point","shape":"triangle-up","filled":false,"color":"#000","strokeWidth":1,"size":28,"opacity":1},"encoding":{"x":{"field":"cM","type":"quantitative","scale":{"domain":[-4,104],"nice":false,"zero":false}},"y":{"datum":-17,"type":"quantitative","scale":{"domain":[-55,152],"nice":false,"zero":false}}}}
]},
{"width":490,"height":40,"layer":[
 {"data":{"name":"thr"},"transform":[{"filter":"datum.value < 10"}],"mark":{"type":"rule","strokeDash":[2,1.5],"strokeWidth":1.2},"encoding":{"y":{"field":"value","type":"quantitative","scale":{"domain":[-0.45,10.6],"nice":false,"zero":false},"axis":{"orient":"left","values":[0,2,4,6,8,10],"tickSize":5,"labelPadding":2,"labelFontSize":5.5,"labelFontWeight":"bold","domain":false,"grid":false,"title":"χ²LG3","titleFontSize":11,"titleFontWeight":"normal","titleX":-42,"titleY":20,"titleAngle":-90,"titleAlign":"center","titleBaseline":"middle"}},"color":{"field":"level","type":"nominal","scale":{"domain":["p05","p01","p001"],"range":["#3344ff","#ff3b3b","#22cc22"]},"legend":null}}},
 {"data":{"name":"chi"},"transform":[{"filter":"datum.lg==='LG3'"}],"mark":{"type":"circle","size":14,"opacity":1,"color":"#c5d020"},"encoding":{"x":{"field":"cM","type":"quantitative","scale":{"domain":[-4,104],"nice":false,"zero":false},"axis":{"orient":"top","values":[0,20,40,60,80,100],"tickSize":-5,"labelPadding":-20,"labelFontSize":10.5,"domain":false,"grid":false,"title":null,"labelFlush":false}},"y":{"field":"chi2","type":"quantitative","scale":{"domain":[-0.45,10.6],"nice":false,"zero":false}}}}
]},
{"width":490,"height":40,"layer":[
 {"data":{"name":"base"},"transform":[{"filter":"datum.lg==='LG4'"}],"mark":{"type":"rule","color":"#000","strokeWidth":1},"encoding":{"x":{"field":"start","type":"quantitative","scale":{"domain":[-4,104],"nice":false,"zero":false},"axis":{"orient":"top","values":[0,20,40,60,80,100],"tickSize":-5,"labelPadding":-17,"labelFontSize":6,"labelFontWeight":"bold","domain":false,"grid":false,"title":null,"labelFlush":false}},"x2":{"field":"end"},"y":{"datum":0,"type":"quantitative","scale":{"domain":[-55,152],"nice":false,"zero":false},"axis":{"title":["Relative","Marker","Depth","LG4","(0-150)"],"labels":false,"ticks":false,"domain":false,"grid":false,"titleFontSize":6,"titleLineHeight":6.6,"titleX":-42,"titleY":20,"titleAngle":-90,"titleAlign":"center","titleBaseline":"middle","titleFontWeight":"normal"}}}},
 {"data":{"name":"bars"},"transform":[{"filter":"datum.lg==='LG4'"}],"mark":{"type":"rule","color":"#f59a3c","strokeWidth":1},"encoding":{"x":{"field":"cM","type":"quantitative","scale":{"domain":[-4,104],"nice":false,"zero":false}},"y":{"field":"depth","type":"quantitative","scale":{"domain":[-55,152],"nice":false,"zero":false}},"y2":{"datum":0}}},
 {"data":{"name":"tri"},"transform":[{"filter":"datum.lg==='LG4'"}],"mark":{"type":"point","shape":"triangle-up","filled":false,"color":"#000","strokeWidth":1,"size":28,"opacity":1},"encoding":{"x":{"field":"cM","type":"quantitative","scale":{"domain":[-4,104],"nice":false,"zero":false}},"y":{"datum":-17,"type":"quantitative","scale":{"domain":[-55,152],"nice":false,"zero":false}}}}
]},
{"width":490,"height":40,"layer":[
 {"data":{"name":"thr"},"mark":{"type":"rule","strokeDash":[2,1.5],"strokeWidth":1.2},"encoding":{"y":{"field":"value","type":"quantitative","scale":{"domain":[-3.5,52],"nice":false,"zero":false},"axis":{"orient":"left","values":[0,10,20,30,40,50],"tickSize":5,"labelPadding":2,"labelFontSize":5.5,"labelFontWeight":"bold","domain":false,"grid":false,"title":"χ²LG4","titleFontSize":11,"titleFontWeight":"normal","titleX":-42,"titleY":20,"titleAngle":-90,"titleAlign":"center","titleBaseline":"middle"}},"color":{"field":"level","type":"nominal","scale":{"domain":["p05","p01","p001"],"range":["#3344ff","#ff3b3b","#22cc22"]},"legend":null}}},
 {"data":{"name":"chi"},"transform":[{"filter":"datum.lg==='LG4'"}],"mark":{"type":"circle","size":14,"opacity":1,"color":"#f5901f"},"encoding":{"x":{"field":"cM","type":"quantitative","scale":{"domain":[-4,104],"nice":false,"zero":false},"axis":{"orient":"top","values":[0,20,40,60,80,100],"tickSize":-5,"labelPadding":-20,"labelFontSize":10.5,"domain":false,"grid":false,"title":null,"labelFlush":false}},"y":{"field":"chi2","type":"quantitative","scale":{"domain":[-3.5,52],"nice":false,"zero":false}}}}
]},
{"width":490,"height":40,"layer":[
 {"data":{"name":"base"},"transform":[{"filter":"datum.lg==='LG5'"}],"mark":{"type":"rule","color":"#000","strokeWidth":1},"encoding":{"x":{"field":"start","type":"quantitative","scale":{"domain":[-4,104],"nice":false,"zero":false},"axis":{"orient":"top","values":[0,20,40,60,80,100],"tickSize":-5,"labelPadding":-17,"labelFontSize":6,"labelFontWeight":"bold","domain":false,"grid":false,"title":null,"labelFlush":false}},"x2":{"field":"end"},"y":{"datum":0,"type":"quantitative","scale":{"domain":[-55,152],"nice":false,"zero":false},"axis":{"title":["Relative","Marker","Depth","LG5","(0-150)"],"labels":false,"ticks":false,"domain":false,"grid":false,"titleFontSize":6,"titleLineHeight":6.6,"titleX":-42,"titleY":20,"titleAngle":-90,"titleAlign":"center","titleBaseline":"middle","titleFontWeight":"normal"}}}},
 {"data":{"name":"bars"},"transform":[{"filter":"datum.lg==='LG5'"}],"mark":{"type":"rule","color":"#3a2a6a","strokeWidth":1},"encoding":{"x":{"field":"cM","type":"quantitative","scale":{"domain":[-4,104],"nice":false,"zero":false}},"y":{"field":"depth","type":"quantitative","scale":{"domain":[-55,152],"nice":false,"zero":false}},"y2":{"datum":0}}},
 {"data":{"name":"tri"},"transform":[{"filter":"datum.lg==='LG5'"}],"mark":{"type":"point","shape":"triangle-up","filled":false,"color":"#000","strokeWidth":1,"size":28,"opacity":1},"encoding":{"x":{"field":"cM","type":"quantitative","scale":{"domain":[-4,104],"nice":false,"zero":false}},"y":{"datum":-17,"type":"quantitative","scale":{"domain":[-55,152],"nice":false,"zero":false}}}}
]},
{"width":490,"height":40,"layer":[
 {"data":{"name":"thr"},"transform":[{"filter":"datum.value < 10"}],"mark":{"type":"rule","strokeDash":[2,1.5],"strokeWidth":1.2},"encoding":{"y":{"field":"value","type":"quantitative","scale":{"domain":[-0.45,10.6],"nice":false,"zero":false},"axis":{"orient":"left","values":[0,2,4,6,8,10],"tickSize":5,"labelPadding":2,"labelFontSize":5.5,"labelFontWeight":"bold","domain":false,"grid":false,"title":"χ²LG5","titleFontSize":11,"titleFontWeight":"normal","titleX":-42,"titleY":20,"titleAngle":-90,"titleAlign":"center","titleBaseline":"middle"}},"color":{"field":"level","type":"nominal","scale":{"domain":["p05","p01","p001"],"range":["#3344ff","#ff3b3b","#22cc22"]},"legend":null}}},
 {"data":{"name":"chi"},"transform":[{"filter":"datum.lg==='LG5'"}],"mark":{"type":"circle","size":14,"opacity":1,"color":"#2d1e5a"},"encoding":{"x":{"field":"cM","type":"quantitative","scale":{"domain":[-4,104],"nice":false,"zero":false},"axis":{"orient":"top","values":[0,20,40,60,80,100],"tickSize":-5,"labelPadding":-20,"labelFontSize":10.5,"domain":false,"grid":false,"title":null,"labelFlush":false}},"y":{"field":"chi2","type":"quantitative","scale":{"domain":[-0.45,10.6],"nice":false,"zero":false}}}}
]},
{"width":490,"height":40,"layer":[
 {"data":{"name":"base"},"transform":[{"filter":"datum.lg==='LG6'"}],"mark":{"type":"rule","color":"#000","strokeWidth":1},"encoding":{"x":{"field":"start","type":"quantitative","scale":{"domain":[-4,104],"nice":false,"zero":false},"axis":{"orient":"top","values":[0,20,40,60,80,100],"tickSize":-5,"labelPadding":-17,"labelFontSize":6,"labelFontWeight":"bold","domain":false,"grid":false,"title":null,"labelFlush":false}},"x2":{"field":"end"},"y":{"datum":0,"type":"quantitative","scale":{"domain":[-55,152],"nice":false,"zero":false},"axis":{"title":["Relative","Marker","Depth","LG6","(0-150)"],"labels":false,"ticks":false,"domain":false,"grid":false,"titleFontSize":6,"titleLineHeight":6.6,"titleX":-42,"titleY":20,"titleAngle":-90,"titleAlign":"center","titleBaseline":"middle","titleFontWeight":"normal"}}}},
 {"data":{"name":"bars"},"transform":[{"filter":"datum.lg==='LG6'"}],"mark":{"type":"rule","color":"#e08cc8","strokeWidth":1},"encoding":{"x":{"field":"cM","type":"quantitative","scale":{"domain":[-4,104],"nice":false,"zero":false}},"y":{"field":"depth","type":"quantitative","scale":{"domain":[-55,152],"nice":false,"zero":false}},"y2":{"datum":0}}},
 {"data":{"name":"tri"},"transform":[{"filter":"datum.lg==='LG6'"}],"mark":{"type":"point","shape":"triangle-up","filled":false,"color":"#000","strokeWidth":1,"size":28,"opacity":1},"encoding":{"x":{"field":"cM","type":"quantitative","scale":{"domain":[-4,104],"nice":false,"zero":false}},"y":{"datum":-17,"type":"quantitative","scale":{"domain":[-55,152],"nice":false,"zero":false}}}}
]},
{"width":490,"height":40,"layer":[
 {"data":{"name":"thr"},"transform":[{"filter":"datum.value < 10"}],"mark":{"type":"rule","strokeDash":[2,1.5],"strokeWidth":1.2},"encoding":{"y":{"field":"value","type":"quantitative","scale":{"domain":[-0.45,10.6],"nice":false,"zero":false},"axis":{"orient":"left","values":[0,2,4,6,8,10],"tickSize":5,"labelPadding":2,"labelFontSize":5.5,"labelFontWeight":"bold","domain":false,"grid":false,"title":"χ²LG6","titleFontSize":11,"titleFontWeight":"normal","titleX":-42,"titleY":20,"titleAngle":-90,"titleAlign":"center","titleBaseline":"middle"}},"color":{"field":"level","type":"nominal","scale":{"domain":["p05","p01","p001"],"range":["#3344ff","#ff3b3b","#22cc22"]},"legend":null}}},
 {"data":{"name":"chi"},"transform":[{"filter":"datum.lg==='LG6'"}],"mark":{"type":"circle","size":14,"opacity":1,"color":"#de80c4"},"encoding":{"x":{"field":"cM","type":"quantitative","scale":{"domain":[-4,104],"nice":false,"zero":false},"axis":{"orient":"top","values":[0,20,40,60,80,100],"tickSize":-5,"labelPadding":-20,"labelFontSize":10.5,"domain":false,"grid":false,"title":null,"labelFlush":false}},"y":{"field":"chi2","type":"quantitative","scale":{"domain":[-0.45,10.6],"nice":false,"zero":false}}}}
]},
{"width":490,"height":40,"layer":[
 {"data":{"name":"base"},"transform":[{"filter":"datum.lg==='LG7'"}],"mark":{"type":"rule","color":"#000","strokeWidth":1},"encoding":{"x":{"field":"start","type":"quantitative","scale":{"domain":[-4,104],"nice":false,"zero":false},"axis":{"orient":"top","values":[0,20,40,60,80,100],"tickSize":-5,"labelPadding":-17,"labelFontSize":6,"labelFontWeight":"bold","domain":false,"grid":false,"title":null,"labelFlush":false}},"x2":{"field":"end"},"y":{"datum":0,"type":"quantitative","scale":{"domain":[-55,152],"nice":false,"zero":false},"axis":{"title":["Relative","Marker","Depth","LG7","(0-150)"],"labels":false,"ticks":false,"domain":false,"grid":false,"titleFontSize":6,"titleLineHeight":6.6,"titleX":-42,"titleY":20,"titleAngle":-90,"titleAlign":"center","titleBaseline":"middle","titleFontWeight":"normal"}}}},
 {"data":{"name":"bars"},"transform":[{"filter":"datum.lg==='LG7'"}],"mark":{"type":"rule","color":"#d43a3a","strokeWidth":1},"encoding":{"x":{"field":"cM","type":"quantitative","scale":{"domain":[-4,104],"nice":false,"zero":false}},"y":{"field":"depth","type":"quantitative","scale":{"domain":[-55,152],"nice":false,"zero":false}},"y2":{"datum":0}}}
]},
{"width":490,"height":40,"resolve":{"axis":{"x":"independent"}},"layer":[
 {"data":{"name":"thr"},"transform":[{"filter":"datum.value < 10"}],"mark":{"type":"rule","strokeDash":[2,1.5],"strokeWidth":1.2},"encoding":{"y":{"field":"value","type":"quantitative","scale":{"domain":[-0.45,10.6],"nice":false,"zero":false},"axis":{"orient":"left","values":[0,2,4,6,8,10],"tickSize":5,"labelPadding":2,"labelFontSize":5.5,"labelFontWeight":"bold","domain":false,"grid":false,"title":"χ² LG7","titleFontSize":11,"titleFontWeight":"normal","titleX":-42,"titleY":20,"titleAngle":-90,"titleAlign":"center","titleBaseline":"middle"}},"color":{"field":"level","type":"nominal","scale":{"domain":["p05","p01","p001"],"range":["#3344ff","#ff3b3b","#22cc22"]},"legend":null}}},
 {"data":{"name":"chi"},"transform":[{"filter":"datum.lg==='LG7' && datum.cM < 30"}],"mark":{"type":"circle","size":14,"opacity":1,"color":"#d02828"},"encoding":{"x":{"field":"cM","type":"quantitative","scale":{"domain":[-4,104],"nice":false,"zero":false},"axis":{"orient":"top","values":[0,20,40,60,80,100],"tickSize":-5,"labelPadding":-20,"labelFontSize":10.5,"domain":false,"grid":false,"title":null,"labelFlush":false}},"y":{"field":"chi2","type":"quantitative","scale":{"domain":[-0.45,10.6],"nice":false,"zero":false}}}},
 {"data":{"name":"chi"},"transform":[{"filter":"datum.lg==='LG7' && datum.cM >= 30"}],"mark":{"type":"circle","size":14,"opacity":1,"color":"#d02828"},"encoding":{"x":{"field":"cM","type":"quantitative","scale":{"domain":[-4,104],"nice":false,"zero":false},"axis":{"orient":"bottom","values":[0,20,40,60,80,100],"ticks":false,"tickSize":0,"labelPadding":16,"labelFontSize":6,"labelFontWeight":"bold","domain":false,"grid":false,"title":"cM","titleFontSize":9,"titleFontWeight":"normal","titlePadding":14,"labelFlush":false}},"y":{"field":"chi2","type":"quantitative","scale":{"domain":[-0.45,10.6],"nice":false,"zero":false}}}}
]}
]
}
